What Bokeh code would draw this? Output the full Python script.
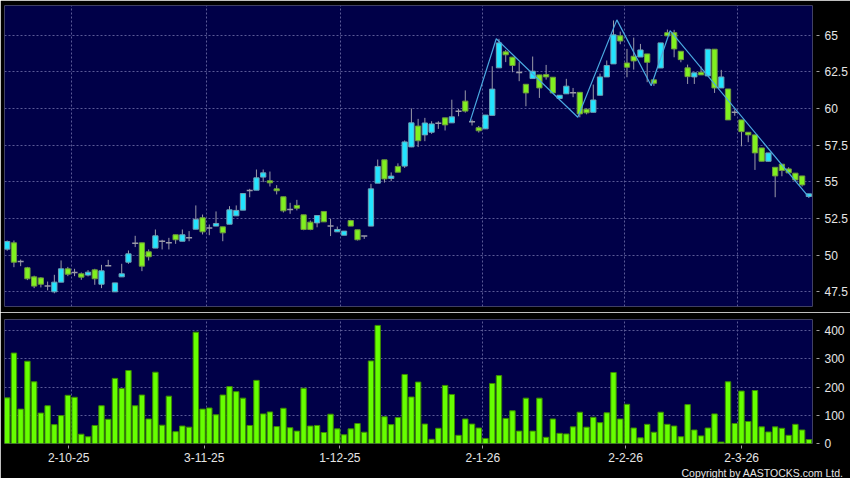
from bokeh.plotting import figure
from bokeh.layouts import column
from bokeh.models import Range1d, FixedTicker, ColumnDataSource, Title
from bokeh.embed import file_html
from bokeh.resources import INLINE

# ---------------- data ----------------
opens = [50.41, 50.84, 49.57, 49.14, 48.52, 48.45, 47.89, 47.50, 48.16, 49.07,
         48.82, 48.73, 48.64, 49.00, 48.02, 49.27, 47.50, 48.52, 49.52, 50.82,
         50.84, 50.23, 50.48, 50.95, 50.84, 51.39, 50.95, 51.18, 51.77, 52.55,
         51.86, 51.98, 51.93, 52.11, 52.68, 53.07, 54.41, 54.43, 55.32, 55.07,
         54.52, 53.98, 53.11, 53.39, 52.75, 52.25, 52.20, 52.98, 51.98, 51.59,
         51.36, 52.36, 51.73, 51.30, 51.98, 54.91, 56.50, 55.23, 56.05, 56.07,
         57.38, 58.80, 58.20, 58.38, 59.00, 59.36, 59.02, 59.81, 60.50, 59.10,
         58.69, 58.61, 59.53, 62.77, 63.86, 63.50, 62.45, 61.65, 62.04, 62.29,
         62.31, 62.13, 60.68, 61.00, 61.08, 61.10, 59.95, 59.74, 60.90, 62.15,
         63.04, 64.95, 63.10, 63.56, 63.51, 63.72, 61.95, 62.76, 65.17, 65.17,
         63.90, 62.77, 62.15, 62.47, 62.22, 64.04, 61.40, 61.33, 59.75, 59.22,
         58.38, 58.20, 57.31, 56.40, 55.99, 56.20, 55.88, 55.59, 55.40, 54.00]
highs = [51.00, 51.00, 49.70, 49.20, 48.60, 48.50, 48.20, 48.66, 49.64, 49.20,
         49.07, 48.82, 48.98, 49.07, 49.34, 49.68, 48.11, 49.41, 50.32, 51.32,
         50.84, 50.39, 51.75, 51.05, 51.18, 51.39, 51.75, 51.64, 53.39, 52.77,
         52.09, 52.98, 51.93, 53.34, 53.39, 54.20, 54.52, 55.84, 55.84, 55.70,
         54.77, 53.98, 53.57, 53.77, 52.75, 52.36, 52.70, 52.98, 52.48, 51.95,
         51.64, 52.41, 51.73, 51.30, 54.86, 56.52, 56.50, 55.64, 56.26, 57.82,
         60.00, 59.29, 59.36, 59.13, 59.13, 59.36, 60.60, 59.97, 61.23, 59.24,
         58.81, 59.56, 62.88, 64.75, 63.99, 63.50, 63.16, 61.65, 63.54, 62.29,
         62.97, 62.13, 60.90, 62.02, 61.40, 61.10, 60.00, 61.63, 62.38, 63.27,
         66.00, 65.24, 64.06, 64.83, 64.40, 63.72, 61.95, 64.47, 65.38, 65.36,
         63.90, 62.99, 62.43, 62.86, 64.04, 64.04, 62.63, 61.33, 59.95, 59.22,
         58.38, 58.20, 57.31, 56.97, 55.99, 56.20, 55.99, 55.59, 55.40, 54.18]
lows = [50.30, 49.18, 49.25, 48.30, 47.75, 47.80, 47.60, 47.40, 48.16, 48.57,
        48.57, 48.32, 48.55, 47.98, 47.75, 49.27, 47.50, 48.52, 49.41, 50.55,
        48.91, 49.64, 50.48, 50.39, 50.39, 50.77, 50.95, 50.95, 51.77, 51.41,
        51.36, 51.98, 50.95, 52.11, 52.68, 53.07, 53.95, 54.43, 54.98, 54.68,
        54.14, 52.91, 52.82, 53.05, 51.70, 51.70, 51.90, 52.27, 51.30, 51.59,
        51.36, 51.98, 51.00, 51.11, 51.98, 54.91, 54.95, 55.05, 55.66, 55.95,
        57.36, 57.37, 57.77, 58.27, 58.61, 58.50, 59.02, 59.47, 59.72, 58.84,
        58.36, 58.61, 59.53, 62.77, 63.16, 62.47, 61.86, 60.15, 62.04, 60.72,
        61.97, 61.06, 60.63, 61.00, 60.77, 59.40, 59.60, 59.74, 60.90, 62.15,
        63.04, 64.38, 62.13, 62.65, 63.51, 61.79, 61.54, 62.76, 64.95, 63.49,
        63.15, 61.67, 61.67, 62.29, 62.22, 61.06, 61.40, 59.22, 59.50, 57.42,
        57.70, 55.81, 56.40, 56.40, 53.95, 55.38, 55.61, 55.04, 54.68, 53.90]
closes = [50.93, 49.52, 49.57, 48.39, 47.89, 48.02, 47.89, 48.16, 49.07, 48.70,
          48.82, 48.50, 48.84, 48.39, 48.93, 49.27, 48.11, 48.73, 50.09, 50.82,
          49.25, 49.89, 51.32, 50.95, 50.84, 51.05, 51.39, 51.18, 52.43, 51.59,
          51.86, 52.16, 51.52, 53.09, 53.05, 54.20, 54.41, 55.27, 55.61, 54.93,
          54.39, 53.02, 53.11, 53.20, 51.75, 51.75, 52.70, 52.27, 51.98, 51.75,
          51.64, 51.98, 51.05, 51.30, 54.52, 56.05, 55.20, 55.39, 55.66, 57.72,
          59.02, 57.80, 59.01, 58.95, 59.00, 58.88, 59.43, 59.81, 59.82, 59.10,
          58.48, 59.55, 61.32, 64.47, 63.66, 62.93, 62.45, 61.06, 62.54, 61.40,
          62.15, 61.06, 60.90, 61.52, 61.08, 59.63, 59.70, 60.58, 62.15, 62.93,
          65.02, 64.60, 62.81, 63.24, 63.99, 63.15, 61.72, 64.47, 64.95, 64.06,
          63.33, 62.17, 62.43, 62.29, 64.04, 61.40, 62.15, 59.22, 59.75, 58.42,
          58.20, 56.97, 56.40, 56.97, 55.40, 55.77, 55.61, 55.13, 54.79, 54.18]
volumes = [162, 321, 122, 292, 219, 108, 134, 67, 99, 171,
           164, 33, 24, 64, 134, 86, 231, 195, 259, 134,
           172, 87, 253, 65, 168, 42, 62, 58, 395, 122,
           126, 102, 172, 202, 184, 161, 64, 224, 105, 112,
           60, 125, 56, 44, 196, 62, 64, 39, 104, 52,
           31, 52, 71, 40, 293, 419, 95, 67, 92, 245,
           165, 218, 69, 15, 54, 206, 174, 29, 87, 69,
           55, 18, 213, 241, 89, 116, 44, 161, 44, 161,
           22, 87, 36, 34, 59, 111, 58, 93, 74, 109,
           252, 87, 139, 55, 20, 68, 40, 111, 68, 62,
           24, 138, 48, 27, 55, 105, 5, 219, 71, 186,
           78, 188, 59, 41, 59, 54, 29, 68, 48, 14]

# zig-zag trend line (bar position, price)
zig_x = [68.7, 72.6, 84.7, 90.5, 95.6, 98.4, 119.0]
zig_y = [59.10, 64.75, 59.40, 66.04, 61.55, 65.30, 53.95]

# date axis
tick_labels = ["2-10-25", "3-11-25", "1-12-25", "2-1-26", "2-2-26", "2-3-26"]
tick_pos = [9.12, 29.25, 49.38, 70.6, 91.8, 109.03]
grid_pos = [9.56, 29.54, 49.53, 70.55, 91.63, 108.44]

price_ticks = [47.5, 50, 52.5, 55, 57.5, 60, 62.5, 65]
price_labels = ["47.5", "50", "52.5", "55", "57.5", "60", "62.5", "65"]
vol_ticks = [0, 100, 200, 300, 400]

# ---------------- styles ----------------
NAVY = "#000048"
GRID = "#5a5a96"
TXT = "#e6e6e6"
CYAN = "#22e4ff"
CYAN_LINE = "#6fa2b4"
GREEN = "#80f020"
GREEN_LINE = "#6e9a3c"
WICK = "#9a9aa8"
VOL = "#66ff00"
VOL_LINE = "#3c8c00"
FONT = "Liberation Sans"

n = len(closes)
idx = list(range(n))

up = dict(x=[], top=[], bottom=[])
dn = dict(x=[], top=[], bottom=[])
dj = dict(x=[], y=[])
for i in idx:
    o, c = opens[i], closes[i]
    if c > o:
        up["x"].append(i); up["top"].append(c); up["bottom"].append(o)
    elif c < o:
        dn["x"].append(i); dn["top"].append(o); dn["bottom"].append(c)
    else:
        dj["x"].append(i); dj["y"].append(o)

x_range = Range1d(-0.4, 119.54)

W = 850

p = figure(width=W, height=312, x_range=x_range, y_range=Range1d(46.5, 67.02),
           output_backend="svg", toolbar_location=None,
           x_axis_location=None, y_axis_location="right",
           min_border_left=4, min_border_right=36, min_border_top=5, min_border_bottom=6,
           background_fill_color=NAVY, border_fill_color="black",
           outline_line_color=None)

p.segment(x0=idx, y0=highs, x1=idx, y1=lows, line_color=WICK, line_width=1)
p.vbar(source=ColumnDataSource(up), x="x", top="top", bottom="bottom", width=0.78,
       fill_color=CYAN, line_color=CYAN_LINE, line_width=1)
p.vbar(source=ColumnDataSource(dn), x="x", top="top", bottom="bottom", width=0.78,
       fill_color=GREEN, line_color=GREEN_LINE, line_width=1)
p.scatter(source=ColumnDataSource(dj), x="x", y="y", marker="dash", size=6,
          line_color=WICK, line_width=1.5)
p.line(zig_x, zig_y, line_color="#4aa8e0", line_width=1.2)

p.yaxis.ticker = FixedTicker(ticks=price_ticks)
p.yaxis.major_label_overrides = dict(zip(price_ticks, price_labels))
p.ygrid.ticker = FixedTicker(ticks=price_ticks)
p.xgrid.ticker = FixedTicker(ticks=grid_pos)

v = figure(width=W, height=166, x_range=x_range, y_range=Range1d(0, 440),
           output_backend="svg", toolbar_location=None,
           x_axis_location="below", y_axis_location="right",
           min_border_left=4, min_border_right=36, min_border_top=7, min_border_bottom=34,
           background_fill_color=NAVY, border_fill_color="black",
           outline_line_color=None)
v.vbar(x=idx, top=volumes, bottom=0, width=0.8, fill_color=VOL, line_color=VOL_LINE,
       line_width=1)

v.yaxis.ticker = FixedTicker(ticks=vol_ticks)
v.ygrid.ticker = FixedTicker(ticks=vol_ticks[1:])
v.xaxis.ticker = FixedTicker(ticks=tick_pos)
v.xaxis.major_label_overrides = dict(zip(tick_pos, tick_labels))
v.xgrid.ticker = FixedTicker(ticks=grid_pos)

for fig in (p, v):
    for g in fig.grid:
        g.grid_line_color = GRID
        g.grid_line_dash = "2 2"
        g.grid_line_width = 1
    for ax in fig.axis:
        ax.axis_line_color = None
        ax.major_tick_line_color = "#a0a0a0"
        ax.minor_tick_line_color = None
        ax.major_label_text_color = TXT
        ax.major_label_text_font = FONT
        ax.major_label_text_font_size = "12px"
    for ax in fig.yaxis:
        ax.major_tick_in = -4
        ax.major_tick_out = 7
        ax.major_label_standoff = 5
v.xaxis.major_tick_in = -2
v.xaxis.major_tick_out = 5
v.xaxis.major_label_standoff = 4

v.add_layout(Title(text="Copyright by AASTOCKS.com Ltd.", align="right",
                   text_color=TXT, text_font=FONT, text_font_size="10.5px",
                   text_font_style="normal", standoff=0, offset=-31), "below")

layout = column(p, v, spacing=0)
open("out.html", "w").write(file_html(layout, INLINE))
